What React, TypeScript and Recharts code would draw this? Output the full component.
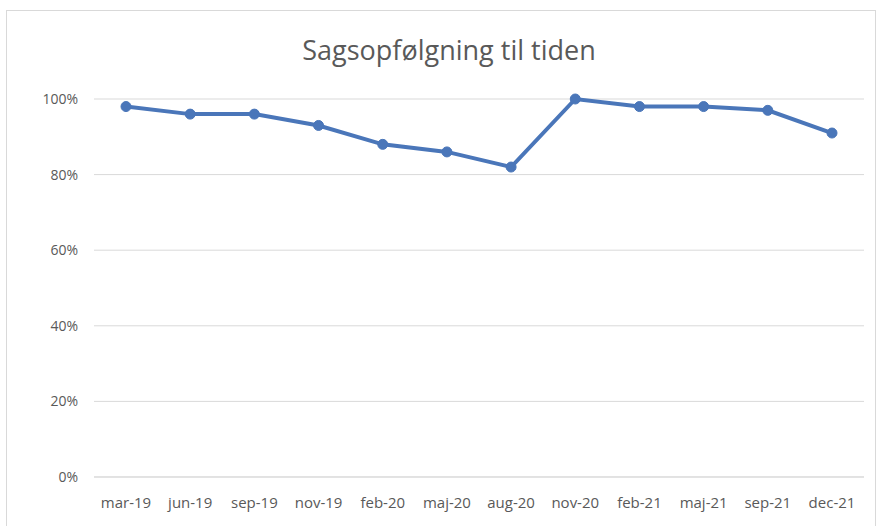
import React from "react"
import { LineChart, Line, XAxis, YAxis, CartesianGrid } from "recharts"

const months = ["mar-19", "jun-19", "sep-19", "nov-19", "feb-20", "maj-20", "aug-20", "nov-20", "feb-21", "maj-21", "sep-21", "dec-21"]
const rates = [98, 96, 96, 93, 88, 86, 82, 100, 98, 98, 97, 91]
const yTicks = [0, 20, 40, 60, 80, 100]

const data = months.map((m, i) => ({ name: m, value: rates[i] }))

const font = "'Open Sans', sans-serif"

export default function App() {
  return (
    <div style={{ position: "absolute", left: 0, top: 0, width: 882, height: 526, background: "#fff", fontFamily: font }}>
      <div
        style={{
          position: "absolute",
          left: 6,
          top: 10,
          width: 870,
          height: 530,
          border: "1px solid #d9d9d9",
          boxSizing: "border-box",
        }}
      />
      <div
        style={{
          position: "absolute",
          left: 0,
          top: 31,
          width: 898,
          textAlign: "center",
          fontSize: 27,
          color: "#595959",
        }}
      >
        Sagsopfølgning til tiden
      </div>
      <div style={{ position: "absolute", left: 0, top: 0 }}>
        <LineChart width={882} height={526} data={data} margin={{ top: 99, right: 18, bottom: 9, left: 0 }}>
          <CartesianGrid vertical={false} stroke="#d9d9d9" />
          <XAxis
            dataKey="name"
            interval={0}
            tickLine={false}
            axisLine={{ stroke: "#d9d9d9" }}
            height={40}
            tickMargin={14}
            padding={{ left: 32, right: 32 }}
            tick={{ fill: "#595959", fontSize: 15, fontFamily: font }}
          />
          <YAxis
            width={94}
            domain={[0, 100]}
            ticks={yTicks}
            tickFormatter={(v) => `${v}%`}
            tickLine={false}
            axisLine={false}
            tickMargin={10}
            tick={{ fill: "#595959", fontSize: 14, fontFamily: font }}
          />
          <Line
            type="linear"
            dataKey="value"
            stroke="#4a76b9"
            strokeWidth={4}
            dot={{ r: 5, fill: "#4a76b9", stroke: "#4a76b9", strokeWidth: 1 }}
            isAnimationActive={false}
          />
        </LineChart>
      </div>
    </div>
  )
}
